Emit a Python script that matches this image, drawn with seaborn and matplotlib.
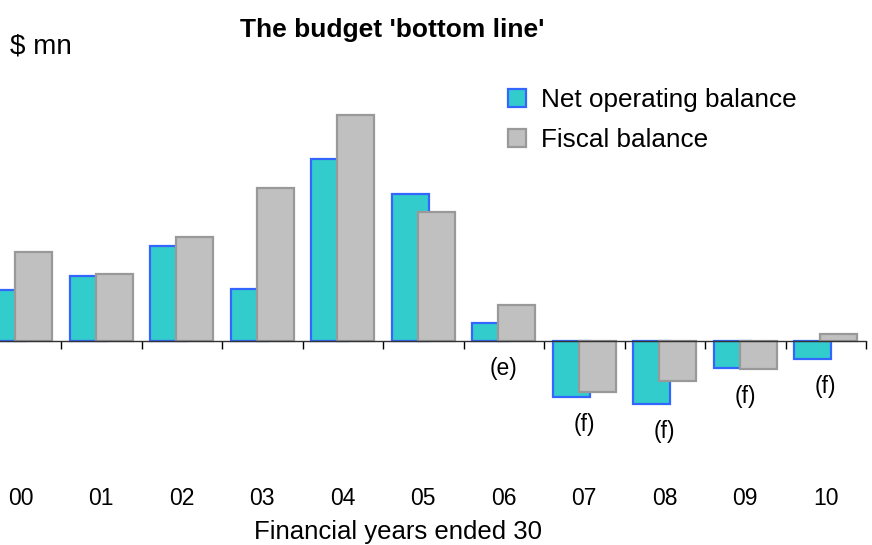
import numpy as np
import pandas as pd
import matplotlib
matplotlib.use("Agg")
import matplotlib.pyplot as plt
import seaborn as sns

# ---- data ($ mn) ----
years = ["00", "01", "02", "03", "04", "05", "06", "07", "08", "09", "10"]
net_operating = [510, 650, 950, 520, 1820, 1470, 180, -560, -630, -270, -180]
fiscal = [890, 670, 1040, 1530, 2260, 1290, 360, -510, -400, -280, 70]
notes = ["", "", "", "", "", "", "(e)", "(f)", "(f)", "(f)", "(f)"]
series = ["Net operating balance", "Fiscal balance"]

sns.set_style("white")
plt.rcParams["font.family"] = ["Liberation Sans", "DejaVu Sans"]
plt.rcParams["text.color"] = "black"
plt.rcParams["axes.labelcolor"] = "black"
plt.rcParams["xtick.color"] = "black"

df = pd.DataFrame({
    "year": years * 2,
    "value": net_operating + fiscal,
    "series": [series[0]] * len(years) + [series[1]] * len(years),
})

W, H = 872, 545
fig = plt.figure(figsize=(W / 100, H / 100), dpi=100)
ax = fig.add_axes([-19.5 / W, 65 / H, 885.5 / W, 420 / H])

sns.barplot(data=df, x="year", y="value", hue="series", order=years,
            hue_order=series, palette=["#33CCCC", "#C0C0C0"], saturation=1,
            width=0.64, gap=-0.4375, errorbar=None, linewidth=1.6,
            legend=False, ax=ax)
for cont, ec in zip(ax.containers, ["#3366FF", "#999999"]):
    for p in cont:
        p.set_edgecolor(ec)

ax.set_xlim(-0.5, len(years) - 0.5)
ax.set_ylim(-1390, 2810)
ax.set_yticks([])
ax.set_xlabel("")
ax.set_ylabel("")
for s in ["left", "top", "right"]:
    ax.spines[s].set_visible(False)
ax.spines["bottom"].set_position(("data", 0))
ax.spines["bottom"].set_color("#333333")
ax.spines["bottom"].set_linewidth(1.0)
ax.spines["bottom"].set_zorder(5)
ax.set_xticks(np.arange(len(years)) + 0.5, minor=True)
ax.tick_params(axis="x", which="minor", direction="out", length=6, width=1,
               color="black", bottom=True)
ax.tick_params(axis="x", which="major", length=0, labelbottom=False)

sec = ax.secondary_xaxis(0)
sec.set_xticks(range(len(years)), labels=years)
sec.tick_params(length=0, pad=5, labelsize=16.5, labelcolor="black")
sec.spines["bottom"].set_visible(False)
sec.set_xlabel("Financial years ended 30", fontsize=18.5, color="black")
sec.xaxis.set_label_coords((398 + 19.5) / 885.5, -(520 - 480) / 420,
                           transform=ax.transAxes)

for i, n in enumerate(notes):
    if n:
        y = min(0, net_operating[i], fiscal[i]) - 278
        ax.text(i, y, n, ha="center", va="center", fontsize=16.5, color="black")

handles = [ax.containers[0][0], ax.containers[1][0]]
leg = ax.legend(handles=handles, labels=series, loc="upper left",
                bbox_to_anchor=(508 / W, 1 - 88 / H), bbox_transform=fig.transFigure,
                frameon=False, fontsize=18.8, handlelength=0.7, handleheight=0.7,
                handletextpad=0.55, labelspacing=0.62, borderpad=0, borderaxespad=0)
for t in leg.get_texts():
    t.set_color("black")

fig.text(392 / W, 1 - 37 / H, "The budget 'bottom line'", ha="center",
         va="baseline", fontsize=19, fontweight="bold", color="black")
fig.text(10 / W, 1 - 54 / H, r"\$ mn", ha="left", va="baseline", fontsize=20,
         color="black")

fig.savefig("out.png", dpi=100)
